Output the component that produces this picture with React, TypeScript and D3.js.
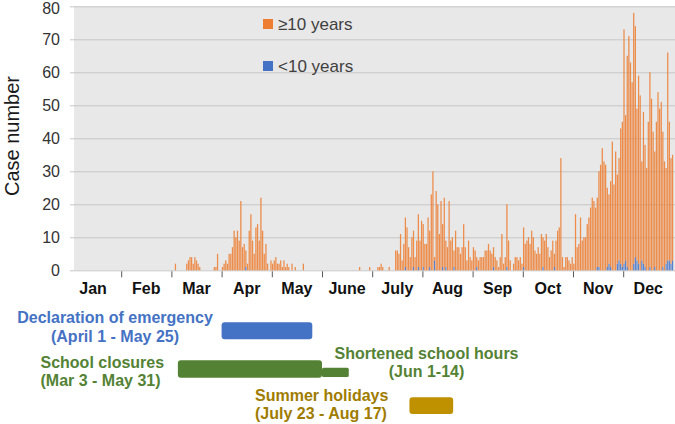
import * as d3 from "d3";
import { useEffect, useRef } from "react";

// daily case counts, 2020, one array per month (cases aged >= 10 years)
const olderJan = [0,0,0,0,0,0,0,0,0,0,0,0,0,0,0,0,0,0,0,0,0,0,0,0,0,0,0,0,0,0,0];
const olderFeb = [0,0,0,0,0,0,0,0,0,0,0,0,0,0,0,0,0,0,0,0,0,0,0,0,0,0,0,0,0];
const olderMar = [0,0,2,0,0,0,0,0,0,2,3,4,4,2,4,3,2,1,0,0,0,0,0,0,0,0,1,1,5,0,0];
const olderApr = [1,2,3,2,5,5,7,12,10,12,9,21,7,8,5,2,12,17,9,5,13,14,9,22,12,5,8,2,0,3];
const olderMay = [2,3,4,2,2,3,1,3,1,2,1,0,2,0,1,0,0,0,0,2,0,0,0,0,0,0,0,0,0,0,0];
const olderJun = [0,0,0,0,0,0,0,0,0,0,0,0,0,0,0,0,0,0,0,0,0,0,1,0,0,0,0,0,1,0];
const olderJul = [0,0,0,1,1,2,1,0,0,0,1,0,0,0,6,6,5,11,3,8,15,13,7,4,10,11,4,9,16,9,15];
const olderAug = [13,8,8,16,11,23,30,1,24,20,11,21,13,22,8,7,21,9,10,5,12,7,7,5,7,14,7,3,9,4,3];
const olderSep = [7,6,3,3,4,4,4,6,6,8,6,5,6,4,3,1,4,11,2,4,19,9,3,0,2,4,4,3,4,2];
const olderOct = [12,8,9,10,8,12,10,6,5,7,5,11,9,9,11,7,4,6,9,4,9,12,13,34,4,1,4,4,3,2,4];
const olderNov = [2,17,7,8,16,9,10,10,14,16,19,22,21,19,21,29,32,37,33,32,24,21,26,39,26,36,27,31,41,44];
const olderDec = [71,44,64,71,63,57,76,70,46,57,53,30,46,37,31,45,59,52,42,35,45,54,49,51,41,33,29,63,42,32,32];

// days with cases aged < 10 years
const youngCases: [string, number][] = [
  ["2020-04-15", 1], ["2020-07-21", 1], ["2020-07-26", 1], ["2020-07-29", 1],
  ["2020-08-01", 1], ["2020-08-05", 1], ["2020-08-08", 3], ["2020-08-13", 1],
  ["2020-08-15", 1], ["2020-08-20", 1], ["2020-09-03", 1], ["2020-09-13", 1],
  ["2020-09-21", 1], ["2020-10-01", 1], ["2020-10-13", 1], ["2020-10-20", 1],
  ["2020-11-15", 1], ["2020-11-16", 1], ["2020-11-21", 1], ["2020-11-22", 2],
  ["2020-11-23", 1], ["2020-11-27", 2], ["2020-11-28", 3], ["2020-11-29", 2],
  ["2020-11-30", 1], ["2020-12-01", 2], ["2020-12-02", 3], ["2020-12-03", 1],
  ["2020-12-07", 2], ["2020-12-08", 4], ["2020-12-09", 3], ["2020-12-10", 2],
  ["2020-12-12", 3], ["2020-12-13", 2], ["2020-12-14", 1], ["2020-12-17", 1],
  ["2020-12-20", 1], ["2020-12-25", 1], ["2020-12-27", 2], ["2020-12-28", 3],
  ["2020-12-29", 3], ["2020-12-30", 2], ["2020-12-31", 3],
];

const monthLabels = ["Jan", "Feb", "Mar", "Apr", "May", "June", "July", "Aug", "Sep", "Oct", "Nov", "Dec"];
const yTicks = [0, 10, 20, 30, 40, 50, 60, 70, 80];
const seriesNames = ["≥10 years", "<10 years"];

// periods drawn below the axis
const periodNames = ["Declaration of emergency", "School closures", "Shortened school hours", "Summer holidays"];
const periodRanges = ["(April 1 - May 25)", "(Mar 3 - May 31)", "(Jun 1-14)", "(July 23 - Aug 17)"];
const periodStarts = ["2020-04-01", "2020-03-05", "2020-06-01", "2020-07-24"];
const periodEnds = ["2020-05-26", "2020-06-01", "2020-06-17", "2020-08-20"];

const W = 675;
const H = 424;
const ORANGE = "#ED7D31";
const BLUE = "#4472C4";
const FONT = "'Liberation Sans', Arial, sans-serif";

export default function App() {
  const svgRef = useRef<SVGSVGElement>(null);

  useEffect(() => {
    const parse = d3.timeParse("%Y-%m-%d");
    const olderByMonth = [olderJan, olderFeb, olderMar, olderApr, olderMay, olderJun,
      olderJul, olderAug, olderSep, olderOct, olderNov, olderDec];
    const young = new Map(youngCases.map(([d, v]) => [d, v]));
    const fmt = d3.timeFormat("%Y-%m-%d");

    const rows: { date: Date; young: number; older: number }[] = [];
    olderByMonth.forEach((arr, m) => {
      arr.forEach((v, i) => {
        const date = new Date(2020, m, i + 1);
        rows.push({ date, older: v, young: young.get(fmt(date)) ?? 0 });
      });
    });

    const monthStarts = d3.range(13).map((m) => new Date(2020, m, 1));
    const x0 = 71;
    const monthW = 50.2;
    const x = d3.scaleTime()
      .domain(monthStarts)
      .range(monthStarts.map((_, i) => x0 + i * monthW));
    const y = d3.scaleLinear().domain([0, 80]).range([270.3, 6.3]);

    const svg = d3.select(svgRef.current);
    svg.selectAll("*").remove();

    // plot background
    svg.append("rect")
      .attr("x", 74).attr("y", y(80))
      .attr("width", W - 74).attr("height", y(0) - y(80))
      .attr("fill", "#E8E8E8");

    // y grid + labels
    const yAxis = d3.axisLeft(y).tickValues(yTicks).tickSize(-(W - 70)).tickPadding(10);
    const yg = svg.append("g").attr("transform", "translate(70,0)").call(yAxis);
    yg.select(".domain").remove();
    yg.selectAll("line").attr("stroke", "#C6C6C6").attr("stroke-width", 1);
    yg.selectAll<SVGTextElement, number>("text")
      .attr("fill", "#333")
      .attr("font-size", 16)
      .attr("font-family", FONT)
      .attr("dy", (d) => (d === 80 ? "0.45em" : "0.32em"));

    // x ticks
    const xAxis = d3.axisBottom(x).tickValues(monthStarts.slice(1, 12)).tickSize(6).tickFormat(() => "");
    const xg = svg.append("g").attr("transform", `translate(0,${y(0) + 1})`).call(xAxis);
    xg.select(".domain").remove();
    xg.selectAll("line").attr("stroke", "#595959");

    svg.append("g")
      .selectAll("text")
      .data(monthLabels)
      .join("text")
      .attr("x", (_, i) => (x(monthStarts[i]) + x(monthStarts[i + 1])) / 2 - (i === 0 ? 3 : 0))
      .attr("y", 294)
      .attr("text-anchor", "middle")
      .attr("font-family", FONT)
      .attr("font-weight", "bold")
      .attr("font-size", 16)
      .attr("fill", "#111")
      .text((d) => d);

    // stacked bars
    const stack = d3.stack<{ date: Date; young: number; older: number }>().keys(["young", "older"]);
    const layers = stack(rows);
    const colors = [BLUE, ORANGE];
    svg.append("g")
      .selectAll("g")
      .data(layers)
      .join("g")
      .attr("fill", (_, i) => colors[i])
      .attr("fill-opacity", 0.88)
      .selectAll("rect")
      .data((d) => d.filter((p) => p[1] > p[0]))
      .join("rect")
      .attr("x", (p) => {
        const a = x(p.data.date);
        const b = x(d3.timeDay.offset(p.data.date, 1));
        return a + (b - a) * 0.12;
      })
      .attr("width", (p) => {
        const a = x(p.data.date);
        const b = x(d3.timeDay.offset(p.data.date, 1));
        return (b - a) * 0.76;
      })
      .attr("y", (p) => y(p[1]))
      .attr("height", (p) => y(p[0]) - y(p[1]));

    // y title
    svg.append("text")
      .attr("transform", "translate(18.5,136) rotate(-90)")
      .attr("text-anchor", "middle")
      .attr("font-family", FONT)
      .attr("font-size", 20)
      .attr("fill", "#1a1a1a")
      .text("Case number");

    // legend
    const legend = svg.append("g");
    [ORANGE, BLUE].forEach((c, i) => {
      legend.append("rect")
        .attr("x", 263).attr("y", 19 + i * 42)
        .attr("width", 10).attr("height", 10)
        .attr("fill", c);
      legend.append("text")
        .attr("x", 278).attr("y", 29.5 + i * 42)
        .attr("font-family", FONT)
        .attr("font-size", 17)
        .attr("fill", "#404040")
        .text(seriesNames[i]);
    });

    // periods
    const barY = [322.3, 360.3, 367.7, 397.3];
    const barH = [17, 17.4, 9.3, 16.7];
    const barColors = [BLUE, "#548235", "#548235", "#BF9000"];
    const textColors = [BLUE, "#548235", "#548235", "#A07C00"];
    const labelX = [115, 40.5, 426.5, 255];
    const labelAnchor = ["middle", "start", "middle", "start"];
    const labelY = [[323, 342], [367.7, 385.7], [359, 376.7], [401, 419]];

    periodNames.forEach((name, i) => {
      const s = x(parse(periodStarts[i])!);
      const e = x(parse(periodEnds[i])!);
      svg.append("rect")
        .attr("x", s).attr("y", barY[i])
        .attr("width", e - s).attr("height", barH[i])
        .attr("rx", i === 2 ? 1.5 : 3)
        .attr("fill", barColors[i]);
      [name, periodRanges[i]].forEach((t, j) => {
        svg.append("text")
          .attr("x", labelX[i]).attr("y", labelY[i][j])
          .attr("text-anchor", labelAnchor[i])
          .attr("font-family", FONT)
          .attr("font-weight", "bold")
          .attr("font-size", 16)
          .attr("fill", textColors[i])
          .text(t);
      });
    });
  }, []);

  return (
    <svg
      ref={svgRef}
      width={W}
      height={H}
      style={{ position: "absolute", left: 0, top: 0, background: "#fff" }}
    />
  );
}
